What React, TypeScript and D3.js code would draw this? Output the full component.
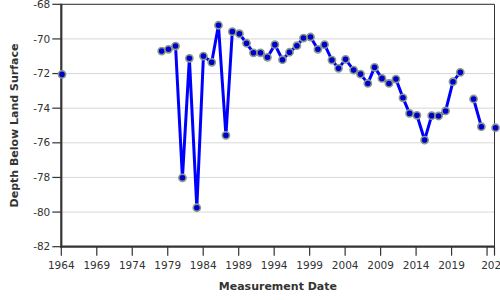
import React from "react";
import * as d3 from "d3";

const years: (number)[] = [
  1964.1, 1971, 1978.15, 1979.1, 1980.1, 1981.07, 1982.05, 1983.1, 1984.03, 1985.2,
  1986.15, 1987.2, 1988.1, 1989.1, 1990.1, 1991.08, 1992.07, 1993.05, 1994.1,
  1995.17, 1996.16, 1997.2, 1998.13, 1999.12, 2000.16, 2001.1, 2002.14, 2003.07,
  2004.06, 2005.2, 2006.17, 2007.2, 2008.15, 2009.19, 2010.18, 2011.16, 2012.15,
  2013.08, 2014.12, 2015.2, 2016.19, 2017.17, 2018.16, 2019.2, 2020.23, 2021.2,
  2022.1, 2023.2, 2024.2, 2025.2,
];
const depths: (number | null)[] = [
  -72.05, null, -70.7, -70.6, -70.41, -78.02, -71.12, -79.75, -70.99, -71.35,
  -69.21, -75.57, -69.58, -69.7, -70.25, -70.8, -70.8, -71.06, -70.33,
  -71.2, -70.77, -70.39, -69.95, -69.89, -70.6, -70.33, -71.22, -71.7,
  -71.18, -71.8, -72.03, -72.57, -71.64, -72.28, -72.57, -72.32, -73.4,
  -74.3, -74.41, -75.84, -74.43, -74.45, -74.16, -72.47, -71.93, null,
  -73.47, -75.07, null, -75.13,
];
const xTicks = [1964, 1969, 1974, 1979, 1984, 1989, 1994, 1999, 2004, 2009, 2014, 2019, 2024, 2025.05];
const xTickLabels = ["1964", "1969", "1974", "1979", "1984", "1989", "1994", "1999", "2004", "2009", "2014", "2019", "", "2025"];
const yTicks = [-68, -70, -72, -74, -76, -78, -80, -82];
const xTitle = "Measurement Date";
const yTitle = "Depth Below Land Surface";

export default function App() {
  const W = 500, H = 300;
  const left = 61.3, right = 494.5, top = 4.3, bottom = 246.7;
  const x = d3.scaleLinear().domain([1964, 2025.05]).range([left, right]);
  const y = d3.scaleLinear().domain([-68, -82]).range([top, bottom]);
  const pts = years.map((yr, i) => ({ yr, v: depths[i] }));
  const line = d3
    .line<{ yr: number; v: number | null }>()
    .defined((d) => d.v != null)
    .x((d) => x(d.yr))
    .y((d) => y(d.v as number));
  const font = "'DejaVu Sans', Verdana, sans-serif";
  const txt = "#333";
  return (
    <svg
      width={W}
      height={H}
      style={{ position: "absolute", left: 0, top: 0, background: "#fff" }}
      fontFamily={font}
    >
      {yTicks.map((t) => (
        <line key={"g" + t} x1={left} x2={right} y1={y(t)} y2={y(t)} stroke="#d8d8d8" strokeWidth={1} />
      ))}
      <line x1={left} x2={right} y1={top} y2={top} stroke="#333" strokeWidth={1} />
      <line x1={right} x2={right} y1={top} y2={bottom} stroke="#333" strokeWidth={1} />
      {yTicks.map((t) => (
        <g key={"y" + t}>
          <line x1={left - 9} x2={left} y1={y(t)} y2={y(t)} stroke="#333" strokeWidth={1.2} />
          <text x={left - 11} y={y(t)} dy="0.35em" textAnchor="end" fontSize={10.5} fill={txt}>
            {t}
          </text>
        </g>
      ))}
      {xTicks.map((t, i) => (
        <g key={"x" + t}>
          <line x1={x(t)} x2={x(t)} y1={bottom} y2={bottom + 9} stroke="#333" strokeWidth={1.2} />
          <text x={x(t)} y={bottom + 22.5} textAnchor="middle" fontSize={10.5} fill={txt}>
            {xTickLabels[i]}
          </text>
        </g>
      ))}
      <line x1={left} x2={left} y1={top - 0.5} y2={bottom + 1} stroke="#333" strokeWidth={2.2} />
      <line x1={left - 1} x2={right + 0.5} y1={bottom} y2={bottom} stroke="#333" strokeWidth={2.2} />
      <path d={line(pts) || ""} fill="none" stroke="#0000ff" strokeWidth={3} strokeLinejoin="round" />
      {pts
        .filter((d) => d.v != null)
        .map((d, i) => (
          <circle key={i} cx={x(d.yr)} cy={y(d.v as number)} r={3.6} fill="#0000cc" stroke="#8a9a8a" strokeWidth={1.6} />
        ))}
      <text x={(left + right) / 2} y={290} textAnchor="middle" fontSize={11} fontWeight="bold" fill={txt}>
        {xTitle}
      </text>
      <text
        transform={`translate(18,${(top + bottom) / 2}) rotate(-90)`}
        textAnchor="middle"
        fontSize={11}
        fontWeight="bold"
        fill={txt}
      >
        {yTitle}
      </text>
    </svg>
  );
}
